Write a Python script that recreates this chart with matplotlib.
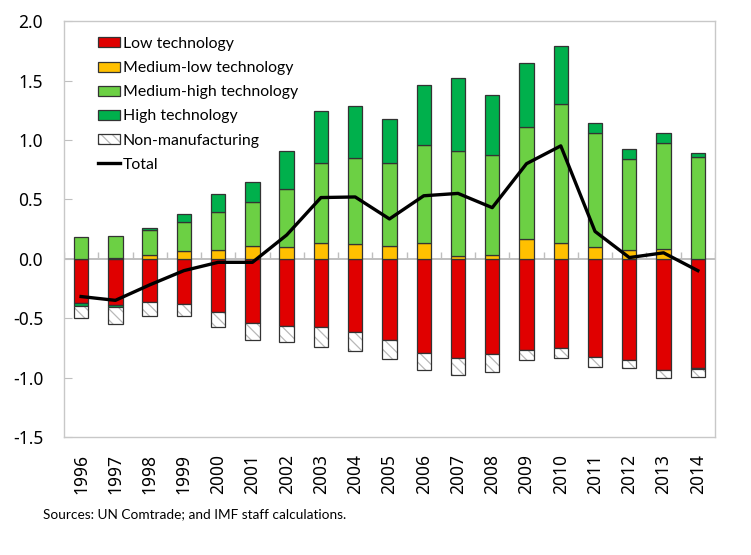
import numpy as np
import matplotlib
matplotlib.use("Agg")
import matplotlib.pyplot as plt
from matplotlib.patches import Patch
from matplotlib.lines import Line2D
from matplotlib.legend_handler import HandlerTuple

# data (contributions, percentage points)
years = [str(y) for y in range(1996, 2015)]
low_tech = [-0.375, -0.39, -0.368, -0.382, -0.45, -0.537, -0.564, -0.578, -0.62, -0.687,
            -0.797, -0.836, -0.802, -0.772, -0.747, -0.83, -0.85, -0.94, -0.923]
med_low = [0.0, 0.005, 0.035, 0.066, 0.074, 0.11, 0.097, 0.136, 0.128, 0.11,
           0.133, 0.02, 0.028, 0.167, 0.136, 0.10, 0.077, 0.08, -0.008]
med_high = [0.187, 0.19, 0.21, 0.247, 0.316, 0.37, 0.493, 0.674, 0.72, 0.70,
            0.827, 0.89, 0.847, 0.943, 1.17, 0.955, 0.765, 0.892, 0.86]
high_tech = [-0.02, -0.015, 0.01, 0.067, 0.155, 0.164, 0.32, 0.437, 0.44, 0.37,
             0.506, 0.61, 0.505, 0.54, 0.484, 0.09, 0.084, 0.088, 0.033]
non_manuf = [-0.10, -0.14, -0.117, -0.10, -0.125, -0.143, -0.14, -0.163, -0.155, -0.155,
             -0.14, -0.143, -0.148, -0.083, -0.089, -0.082, -0.067, -0.064, -0.06]
total = [-0.318, -0.35, -0.22, -0.10, -0.03, -0.03, 0.20, 0.515, 0.52, 0.335,
         0.53, 0.55, 0.43, 0.80, 0.95, 0.23, 0.01, 0.05, -0.10]

series = [
    ("Low technology", low_tech, "#E00000", None),
    ("Medium-low technology", med_low, "#FFC000", None),
    ("Medium-high technology", med_high, "#6CD044", None),
    ("High technology", high_tech, "#00B04C", None),
    ("Non-manufacturing", non_manuf, "white", "\\\\\\"),
]

plt.rcParams["font.family"] = ["Noto Sans", "DejaVu Sans"]
plt.rcParams["hatch.linewidth"] = 0.9

fig = plt.figure(figsize=(7.51, 5.55), dpi=100)
ax = fig.add_axes([0.0852, 0.2126, 0.8668, 0.7494])

x = np.arange(len(years))
pos_bottom = np.zeros(len(years))
neg_bottom = np.zeros(len(years))
handles = []
for name, vals, col, hatch in series:
    vals = np.array(vals)
    bottom = np.where(vals >= 0, pos_bottom, neg_bottom)
    if hatch:
        # light grey hatch first, dark outline on top
        ax.bar(x, vals, 0.42, bottom=bottom, color=col, edgecolor="#B8B8B8",
               linewidth=0, hatch=hatch, zorder=2)
        ax.bar(x, vals, 0.42, bottom=bottom, fill=False, edgecolor="#333333",
               linewidth=0.9, zorder=2)
        h = (Patch(facecolor=col, edgecolor="#B8B8B8", hatch=hatch, linewidth=0),
             Patch(fill=False, edgecolor="#333333", linewidth=0.9))
    else:
        ax.bar(x, vals, 0.42, bottom=bottom, color=col, edgecolor="#333333",
               linewidth=0.9, zorder=2)
        h = Patch(facecolor=col, edgecolor="#333333", linewidth=0.9)
    pos_bottom += np.where(vals >= 0, vals, 0)
    neg_bottom += np.where(vals < 0, vals, 0)
    handles.append(h)

ax.plot(x, total, color="black", linewidth=2.4, zorder=4)
handles.append(Line2D([0], [0], color="black", linewidth=2.4))
labels = [s[0] for s in series] + ["Total"]

# zero line with category tick marks
ax.axhline(0, color="#BFBFBF", linewidth=1.4, zorder=1)
ax.vlines(np.arange(len(years) + 1) - 0.5, 0, 0.055, color="#BFBFBF",
          linewidth=1.0, zorder=1)

ax.set_xlim(-0.5, len(years) - 0.5)
ax.set_ylim(-1.5, 2.0)
ax.set_yticks(np.arange(-1.5, 2.01, 0.5))
ax.set_yticklabels([f"{v:.1f}" for v in np.arange(-1.5, 2.01, 0.5)], fontsize=12.5)
ax.set_xticks(x)
ax.set_xticklabels(years, rotation=90, fontsize=12.5)
ax.tick_params(axis="x", length=0, pad=12)
ax.tick_params(axis="y", direction="in", length=6, color="#BFBFBF", pad=15)
for sp in ax.spines.values():
    sp.set_color("#C8C8C8")
    sp.set_linewidth(1.0)

leg = ax.legend(handles, labels, loc="upper left", bbox_to_anchor=(0.043, 0.977),
                frameon=False, prop={"family": ["Lato", "DejaVu Sans"], "size": 11.4},
                handlelength=1.4, handleheight=0.6,
                handletextpad=0.15, labelspacing=0.64, borderaxespad=0,
                handler_map={tuple: HandlerTuple(ndivide=1, pad=0)})

fig.text(0.057, 0.073, "Sources: UN Comtrade; and IMF staff calculations.",
         fontsize=9.8, va="center", ha="left", family=["Lato", "DejaVu Sans"])

fig.savefig("out.png", dpi=100)
